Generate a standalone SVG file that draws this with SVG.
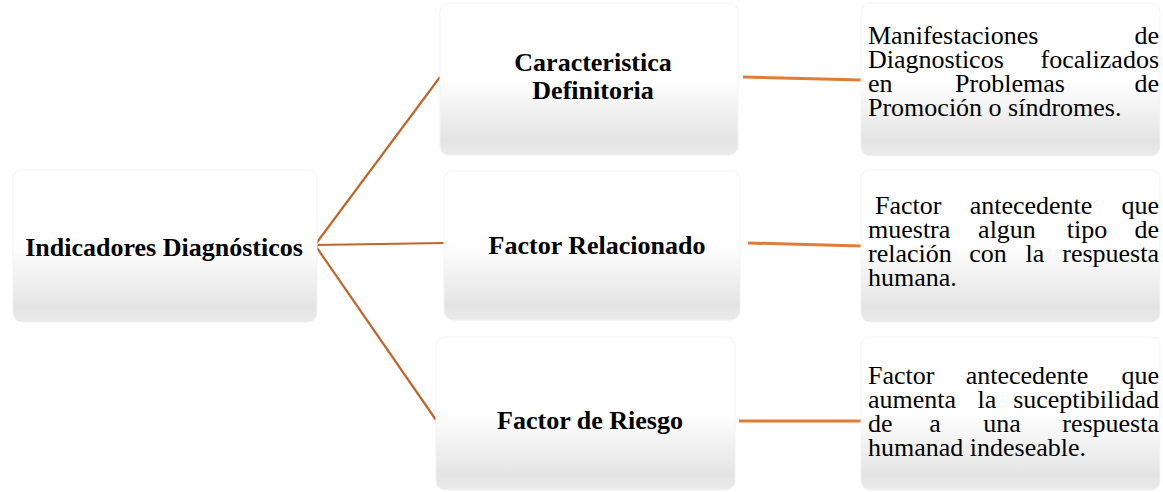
<svg xmlns="http://www.w3.org/2000/svg" width="1163" height="492" viewBox="0 0 1163 492">
<defs>
<linearGradient id="g" x1="0" y1="0" x2="0" y2="1">
<stop offset="0" stop-color="#ffffff"/>
<stop offset="0.5" stop-color="#ffffff"/>
<stop offset="0.9" stop-color="#e4e4e4"/>
<stop offset="1" stop-color="#ebebeb"/>
</linearGradient>
</defs>
<style>
.box{fill:url(#g);stroke:#f3f3f3;stroke-width:1}
.lbl{font-family:"Liberation Serif","Times New Roman",serif;font-weight:bold;font-size:26px;fill:#000;text-anchor:middle}
.txt{font-family:"Liberation Serif","Times New Roman",serif;font-size:26px;fill:#000}
.r{text-anchor:end}
.m{text-anchor:middle}
.c1{stroke:#c0652b;stroke-width:2.2;fill:none}
.c2{stroke:#e07b39;stroke-width:3;fill:none}
</style>
<rect width="1163" height="492" fill="#ffffff"/>
<g id="connectors">
<line class="c1" x1="315" y1="245" x2="440" y2="77"/>
<line class="c1" x1="315" y1="245" x2="444" y2="243"/>
<line class="c1" x1="315" y1="245" x2="436" y2="420"/>
<line class="c2" x1="743" y1="77" x2="861" y2="80"/>
<line class="c2" x1="748" y1="243" x2="861" y2="246"/>
<line class="c2" x1="739" y1="421" x2="861" y2="421"/>
</g>
<g id="n-indicadores">
<rect class="box" x="13" y="170" width="304" height="152" rx="9"/>
<text class="lbl" x="164" y="256">Indicadores Diagnósticos</text>
</g>
<g id="n-caracteristica">
<rect class="box" x="440" y="3" width="298" height="152" rx="9"/>
<text class="lbl" x="593" y="71">Caracteristica</text>
<text class="lbl" x="593" y="99">Definitoria</text>
</g>
<g id="n-relacionado">
<rect class="box" x="444" y="171" width="296" height="149" rx="9"/>
<text class="lbl" x="597" y="254">Factor Relacionado</text>
</g>
<g id="n-riesgo">
<rect class="box" x="436" y="337" width="299" height="153" rx="9"/>
<text class="lbl" x="590" y="429">Factor de Riesgo</text>
</g>
<g id="n-desc1">
<rect class="box" x="861" y="3" width="299" height="153" rx="9"/>
<text class="txt" x="868" y="44">Manifestaciones</text>
<text class="txt r" x="1159" y="44">de</text>
<text class="txt" x="868" y="68">Diagnosticos</text>
<text class="txt r" x="1159" y="68">focalizados</text>
<text class="txt" x="868" y="92">en</text>
<text class="txt m" x="1010" y="92">Problemas</text>
<text class="txt r" x="1159" y="92">de</text>
<text class="txt" x="868" y="116">Promoción o síndromes.</text>
</g>
<g id="n-desc2">
<rect class="box" x="861" y="170" width="299" height="152" rx="9"/>
<text class="txt" x="875" y="214">Factor</text>
<text class="txt m" x="1031" y="214">antecedente</text>
<text class="txt r" x="1159" y="214">que</text>
<text class="txt" x="868" y="238">muestra</text>
<text class="txt m" x="1007" y="238">algun</text>
<text class="txt m" x="1087" y="238">tipo</text>
<text class="txt r" x="1159" y="238">de</text>
<text class="txt" x="868" y="262">relación</text>
<text class="txt m" x="988" y="262">con</text>
<text class="txt m" x="1035" y="262">la</text>
<text class="txt r" x="1159" y="262">respuesta</text>
<text class="txt" x="868" y="286">humana.</text>
</g>
<g id="n-desc3">
<rect class="box" x="861" y="337" width="299" height="153" rx="9"/>
<text class="txt" x="868" y="384">Factor</text>
<text class="txt m" x="1027" y="384">antecedente</text>
<text class="txt r" x="1159" y="384">que</text>
<text class="txt" x="868" y="408">aumenta</text>
<text class="txt m" x="987" y="408">la</text>
<text class="txt r" x="1159" y="408">suceptibilidad</text>
<text class="txt" x="868" y="432">de</text>
<text class="txt m" x="935" y="432">a</text>
<text class="txt m" x="1002" y="432">una</text>
<text class="txt r" x="1159" y="432">respuesta</text>
<text class="txt" x="868" y="456">humanad indeseable.</text>
</g>
</svg>
